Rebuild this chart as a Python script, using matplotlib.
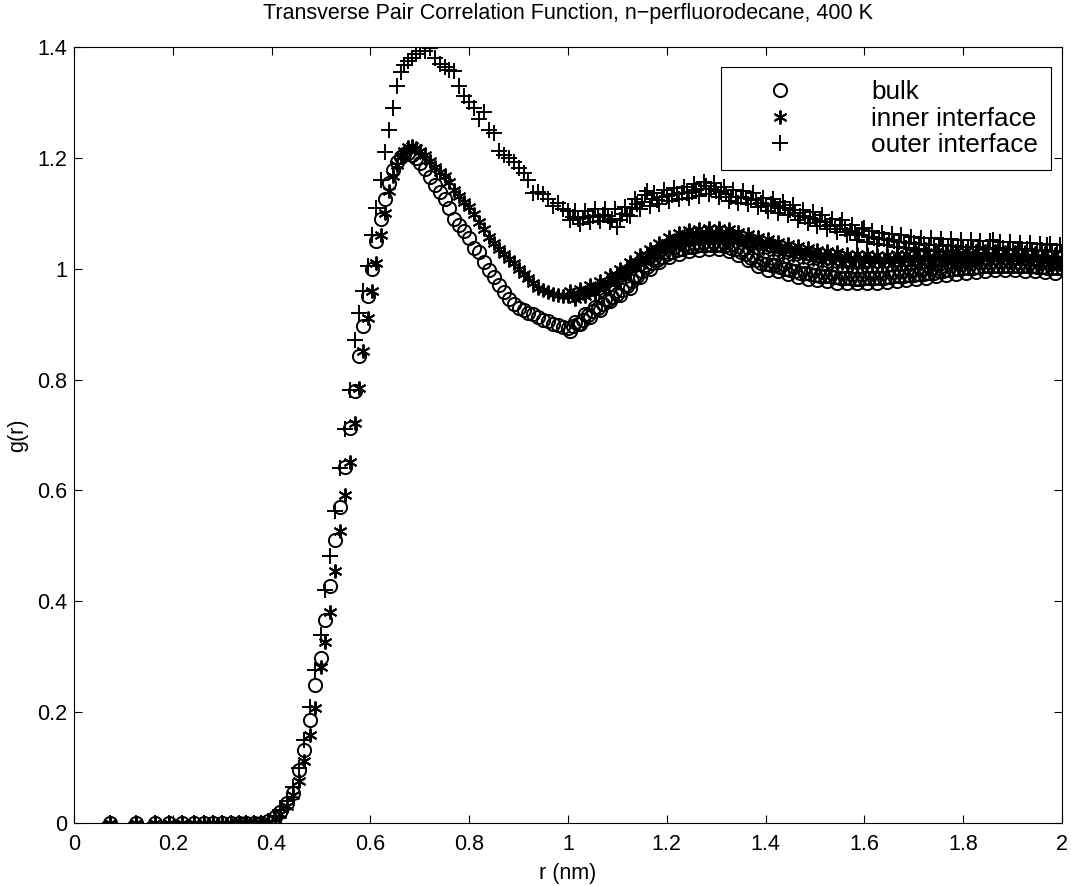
import numpy as np
import matplotlib
matplotlib.use("Agg")
from matplotlib import pyplot as plt

plt.rcParams['font.family'] = ['Liberation Sans', 'DejaVu Sans']

# r (nm) positions
r = [0.073, 0.126, 0.163, 0.193, 0.218, 0.242, 0.263, 0.282, 0.300, 0.317,
     0.334, 0.349, 0.364, 0.378, 0.392, 0.406, 0.418, 0.431, 0.443, 0.455,
     0.466, 0.477, 0.488, 0.499, 0.509, 0.519, 0.529, 0.539, 0.549, 0.558,
     0.568, 0.577, 0.586, 0.595, 0.603, 0.612, 0.621, 0.629, 0.637, 0.646,
     0.654, 0.661, 0.669, 0.677, 0.685, 0.692, 0.700,
     0.71, 0.72, 0.73, 0.74, 0.75, 0.76, 0.77, 0.78, 0.79, 0.80,
     0.81, 0.82, 0.83, 0.84, 0.85, 0.86, 0.87, 0.88, 0.89, 0.90,
     0.91, 0.92, 0.93, 0.94, 0.95, 0.96, 0.97, 0.98, 0.99, 1.00,
     1.01, 1.02, 1.03, 1.04, 1.05, 1.06, 1.07, 1.08, 1.09, 1.10,
     1.11, 1.12, 1.13, 1.14, 1.15, 1.16, 1.17, 1.18, 1.19, 1.20,
     1.21, 1.22, 1.23, 1.24, 1.25, 1.26, 1.27, 1.28, 1.29, 1.30,
     1.31, 1.32, 1.33, 1.34, 1.35, 1.36, 1.37, 1.38, 1.39, 1.40,
     1.41, 1.42, 1.43, 1.44, 1.45, 1.46, 1.47, 1.48, 1.49, 1.50,
     1.51, 1.52, 1.53, 1.54, 1.55, 1.56, 1.57, 1.58, 1.59, 1.60,
     1.61, 1.62, 1.63, 1.64, 1.65, 1.66, 1.67, 1.68, 1.69, 1.70,
     1.71, 1.72, 1.73, 1.74, 1.75, 1.76, 1.77, 1.78, 1.79, 1.80,
     1.81, 1.82, 1.83, 1.84, 1.85, 1.86, 1.87, 1.88, 1.89, 1.90,
     1.91, 1.92, 1.93, 1.94, 1.95, 1.96, 1.97, 1.98, 1.99, 2.00]

g_bulk = [0, 0, 0, 0, 0, 0, 0, 0, 0, 0,
          0, 0, 0, 0, 0.004, 0.011, 0.020, 0.036, 0.054, 0.096,
          0.132, 0.186, 0.249, 0.297, 0.366, 0.427, 0.511, 0.571, 0.643, 0.712,
          0.779, 0.842, 0.896, 0.950, 1.000, 1.050, 1.090, 1.125, 1.155, 1.178,
          1.192, 1.202, 1.207, 1.209, 1.206, 1.200, 1.190,
          1.180, 1.166, 1.151, 1.138, 1.126, 1.109, 1.090, 1.079, 1.068, 1.055,
          1.038, 1.030, 1.013, 0.998, 0.985, 0.971, 0.958, 0.945, 0.937, 0.930,
          0.925, 0.921, 0.918, 0.912, 0.908, 0.905, 0.901, 0.898, 0.894, 0.893,
          0.896, 0.901, 0.907, 0.916, 0.923, 0.930, 0.937, 0.943, 0.949, 0.955,
          0.961, 0.968, 0.977, 0.987, 0.995, 1.003, 1.010, 1.016, 1.021, 1.026,
          1.030, 1.033, 1.036, 1.039, 1.040, 1.041, 1.042, 1.043, 1.043, 1.043,
          1.043, 1.042, 1.038, 1.035, 1.031, 1.026, 1.020, 1.015, 1.011, 1.008,
          1.007, 1.006, 1.003, 1.000, 0.998, 0.995, 0.993, 0.992, 0.991, 0.989,
          0.987, 0.986, 0.986, 0.985, 0.984, 0.983, 0.983, 0.982, 0.982, 0.983,
          0.983, 0.983, 0.984, 0.984, 0.985, 0.986, 0.986, 0.987, 0.988, 0.989,
          0.990, 0.991, 0.992, 0.993, 0.995, 0.996, 0.997, 0.999, 1.000, 1.001,
          1.001, 1.002, 1.003, 1.004, 1.004, 1.005, 1.005, 1.005, 1.005, 1.005,
          1.005, 1.004, 1.004, 1.004, 1.003, 1.003, 1.002, 1.002, 1.001, 1.001]

g_inner = [0, 0, 0, 0, 0, 0, 0, 0, 0, 0,
           0, 0, 0, 0, 0.002, 0.008, 0.016, 0.030, 0.050, 0.075,
           0.111, 0.159, 0.207, 0.282, 0.327, 0.381, 0.454, 0.526, 0.592, 0.652,
           0.722, 0.785, 0.851, 0.911, 0.960, 1.010, 1.060, 1.100, 1.140, 1.168,
           1.188, 1.203, 1.213, 1.220, 1.221, 1.218, 1.212,
           1.205, 1.195, 1.183, 1.174, 1.167, 1.157, 1.142, 1.132, 1.121, 1.112,
           1.098, 1.085, 1.071, 1.058, 1.047, 1.036, 1.026, 1.018, 1.010, 0.999,
           0.991, 0.983, 0.975, 0.966, 0.962, 0.958, 0.955, 0.952, 0.950, 0.950,
           0.952, 0.954, 0.957, 0.960, 0.963, 0.967, 0.971, 0.976, 0.982, 0.988,
           0.994, 1.000, 1.006, 1.012, 1.018, 1.024, 1.030, 1.036, 1.041, 1.046,
           1.050, 1.054, 1.057, 1.060, 1.061, 1.062, 1.063, 1.064, 1.064, 1.064,
           1.064, 1.063, 1.061, 1.058, 1.055, 1.053, 1.051, 1.049, 1.047, 1.045,
           1.043, 1.041, 1.038, 1.036, 1.034, 1.032, 1.031, 1.029, 1.027, 1.025,
           1.023, 1.022, 1.022, 1.021, 1.019, 1.018, 1.017, 1.017, 1.016, 1.016,
           1.016, 1.015, 1.015, 1.015, 1.016, 1.016, 1.016, 1.017, 1.017, 1.018,
           1.018, 1.019, 1.019, 1.020, 1.020, 1.021, 1.021, 1.022, 1.022, 1.022,
           1.022, 1.022, 1.022, 1.022, 1.022, 1.022, 1.022, 1.021, 1.021, 1.021,
           1.020, 1.020, 1.019, 1.019, 1.018, 1.018, 1.017, 1.017, 1.016, 1.016]

g_outer = [0, 0, 0, 0, 0, 0, 0, 0, 0, 0,
           0, 0, 0, 0, 0.004, 0.012, 0.024, 0.040, 0.065, 0.100,
           0.150, 0.210, 0.276, 0.339, 0.421, 0.481, 0.562, 0.640, 0.710, 0.782,
           0.872, 0.920, 0.960, 1.005, 1.060, 1.110, 1.160, 1.210, 1.250, 1.290,
           1.330, 1.355, 1.368, 1.375, 1.380, 1.388, 1.393,
           1.393, 1.398, 1.380, 1.370, 1.364, 1.359, 1.356, 1.330, 1.312, 1.300,
           1.290, 1.270, 1.282, 1.251, 1.244, 1.212, 1.205, 1.199, 1.192, 1.182,
           1.172, 1.160, 1.136, 1.138, 1.135, 1.125, 1.113, 1.118, 1.108, 1.104,
           1.094, 1.090, 1.091, 1.093, 1.096, 1.094, 1.097, 1.096, 1.090, 1.076,
           1.099, 1.097, 1.110, 1.116, 1.121, 1.140, 1.126, 1.124, 1.129, 1.131,
           1.133, 1.134, 1.136, 1.137, 1.138, 1.142, 1.143, 1.150, 1.143, 1.141,
           1.138, 1.135, 1.130, 1.129, 1.130, 1.128, 1.126, 1.124, 1.118, 1.114,
           1.116, 1.113, 1.110, 1.109, 1.106, 1.100, 1.095, 1.094, 1.092, 1.089,
           1.086, 1.084, 1.078, 1.077, 1.078, 1.072, 1.068, 1.064, 1.061, 1.073,
           1.057, 1.056, 1.054, 1.053, 1.051, 1.050, 1.049, 1.048, 1.047, 1.046,
           1.045, 1.044, 1.043, 1.043, 1.042, 1.042, 1.041, 1.041, 1.040, 1.040,
           1.040, 1.039, 1.039, 1.038, 1.038, 1.052, 1.037, 1.037, 1.036, 1.036,
           1.036, 1.035, 1.035, 1.034, 1.034, 1.033, 1.043, 1.032, 1.032, 1.031]

# in-between samples beyond 1 nm, read from the upper/lower edges of each
# scattered band
r_mid = [1.005, 1.015, 1.025, 1.035, 1.045, 1.055, 1.065, 1.075, 1.085, 1.095,
         1.105, 1.115, 1.125, 1.135, 1.145, 1.155, 1.165, 1.175, 1.185, 1.195,
         1.205, 1.215, 1.225, 1.235, 1.245, 1.255, 1.265, 1.275, 1.285, 1.295,
         1.305, 1.315, 1.325, 1.335, 1.345, 1.355, 1.365, 1.375, 1.385, 1.395,
         1.405, 1.415, 1.425, 1.435, 1.445, 1.455, 1.465, 1.475, 1.485, 1.495,
         1.505, 1.515, 1.525, 1.535, 1.545, 1.555, 1.565, 1.575, 1.585, 1.595,
         1.605, 1.615, 1.625, 1.635, 1.645, 1.655, 1.665, 1.675, 1.685, 1.695,
         1.705, 1.715, 1.725, 1.735, 1.745, 1.755, 1.765, 1.775, 1.785, 1.795,
         1.805, 1.815, 1.825, 1.835, 1.845, 1.855, 1.865, 1.875, 1.885, 1.895,
         1.905, 1.915, 1.925, 1.935, 1.945, 1.955, 1.965, 1.975, 1.985, 1.995]

g_bulk_mid = [0.888, 0.904, 0.900, 0.918, 0.913, 0.931, 0.926, 0.946, 0.941, 0.959,
              0.952, 0.970, 0.965, 0.988, 0.985, 1.006, 0.999, 1.019, 1.012, 1.030,
              1.021, 1.039, 1.027, 1.044, 1.032, 1.047, 1.033, 1.049, 1.035, 1.049,
              1.035, 1.049, 1.032, 1.044, 1.025, 1.036, 1.015, 1.025, 1.004, 1.017,
              0.998, 1.014, 0.995, 1.009, 0.990, 1.004, 0.985, 1.000, 0.982, 0.998,
              0.979, 0.994, 0.977, 0.993, 0.975, 0.992, 0.975, 0.991, 0.974, 0.991,
              0.975, 0.992, 0.975, 0.993, 0.976, 0.994, 0.978, 0.995, 0.979, 0.997,
              0.981, 0.999, 0.983, 1.001, 0.986, 1.004, 0.988, 1.007, 0.991, 1.009,
              0.993, 1.010, 0.994, 1.012, 0.996, 1.013, 0.997, 1.014, 0.997, 1.014,
              0.997, 1.013, 0.996, 1.013, 0.995, 1.012, 0.994, 1.011, 0.993, 1.010]

g_inner_mid = [0.959, 0.945, 0.964, 0.950, 0.970, 0.957, 0.978, 0.965, 0.988, 0.977,
               1.000, 0.989, 1.012, 1.001, 1.024, 1.013, 1.036, 1.025, 1.047, 1.035,
               1.057, 1.044, 1.064, 1.050, 1.070, 1.053, 1.072, 1.055, 1.074, 1.056,
               1.074, 1.055, 1.072, 1.051, 1.066, 1.046, 1.062, 1.042, 1.058, 1.038,
               1.054, 1.034, 1.049, 1.029, 1.045, 1.025, 1.041, 1.022, 1.038, 1.018,
               1.034, 1.014, 1.032, 1.013, 1.030, 1.010, 1.027, 1.009, 1.026, 1.008,
               1.026, 1.007, 1.025, 1.007, 1.025, 1.008, 1.026, 1.008, 1.027, 1.009,
               1.028, 1.010, 1.029, 1.011, 1.030, 1.012, 1.031, 1.013, 1.032, 1.014,
               1.032, 1.014, 1.032, 1.014, 1.032, 1.014, 1.032, 1.014, 1.031, 1.013,
               1.031, 1.012, 1.030, 1.011, 1.029, 1.010, 1.028, 1.009, 1.027, 1.008]

g_outer_mid = [1.088, 1.104, 1.081, 1.104, 1.084, 1.107, 1.086, 1.108, 1.085, 1.108,
               1.088, 1.112, 1.096, 1.125, 1.108, 1.133, 1.114, 1.137, 1.116, 1.142,
               1.122, 1.145, 1.125, 1.148, 1.127, 1.152, 1.132, 1.156, 1.134, 1.154,
               1.130, 1.148, 1.122, 1.142, 1.119, 1.141, 1.117, 1.137, 1.111, 1.128,
               1.105, 1.126, 1.101, 1.121, 1.097, 1.115, 1.087, 1.106, 1.083, 1.102,
               1.077, 1.097, 1.071, 1.089, 1.067, 1.087, 1.060, 1.078, 1.052, 1.072,
               1.049, 1.068, 1.045, 1.065, 1.042, 1.062, 1.039, 1.060, 1.037, 1.058,
               1.035, 1.056, 1.033, 1.055, 1.032, 1.054, 1.031, 1.053, 1.030, 1.052,
               1.030, 1.051, 1.029, 1.050, 1.028, 1.050, 1.027, 1.049, 1.027, 1.048,
               1.026, 1.047, 1.025, 1.046, 1.024, 1.045, 1.023, 1.044, 1.022, 1.043]

labels = ["bulk", "inner interface", "outer interface"]

r_all = np.concatenate([r, r_mid])
bulk = np.concatenate([g_bulk, g_bulk_mid])
inner = np.concatenate([g_inner, g_inner_mid])
outer = np.concatenate([g_outer, g_outer_mid])

fig = plt.figure(figsize=(10.71, 8.86), dpi=100)
ax = fig.add_axes([74 / 1071, 63 / 886, 988 / 1071, 776 / 886])

ax.plot(r_all, bulk, linestyle="none", marker="o", ms=9.5, mfc="none",
        mec="black", mew=1.4, label=labels[0])
ax.plot(r_all, inner, linestyle="none", marker=(6, 2, 0), ms=10,
        mec="black", mew=1.4, label=labels[1])
ax.plot(r_all, outer, linestyle="none", marker="+", ms=11,
        mec="black", mew=1.4, label=labels[2])

ax.set_xlim(0, 2)
ax.set_ylim(0, 1.4)
ax.set_xticks(np.arange(0, 2.01, 0.2))
ax.set_xticklabels(["0", "0.2", "0.4", "0.6", "0.8", "1", "1.2", "1.4", "1.6", "1.8", "2"])
ax.set_yticks(np.arange(0, 1.41, 0.2))
ax.set_yticklabels(["0", "0.2", "0.4", "0.6", "0.8", "1", "1.2", "1.4"])
ax.tick_params(direction="in", length=6, width=0.8, top=True, right=True,
               labelsize=15.5)
ax.tick_params(axis="x", pad=8)
ax.tick_params(axis="y", pad=5)
for s in ax.spines.values():
    s.set_linewidth(0.8)

ax.set_title("Transverse Pair Correlation Function, n\u2212perfluorodecane, 400 K",
             fontsize=15.5, pad=20)
ax.set_xlabel("r (nm)", fontsize=15.5, labelpad=6)
ax.set_ylabel("g(r)", fontsize=15.5, labelpad=6)

leg = ax.legend(loc="upper left", bbox_to_anchor=(721 / 1071, 1 - 67 / 886),
                bbox_transform=fig.transFigure, fontsize=18.8, frameon=True,
                fancybox=False, edgecolor="black", framealpha=1,
                borderpad=0.5, labelspacing=0.1, handlelength=3.5,
                handletextpad=1.75, borderaxespad=0)
leg.get_frame().set_linewidth(0.8)

fig.savefig("out.png", dpi=100)
